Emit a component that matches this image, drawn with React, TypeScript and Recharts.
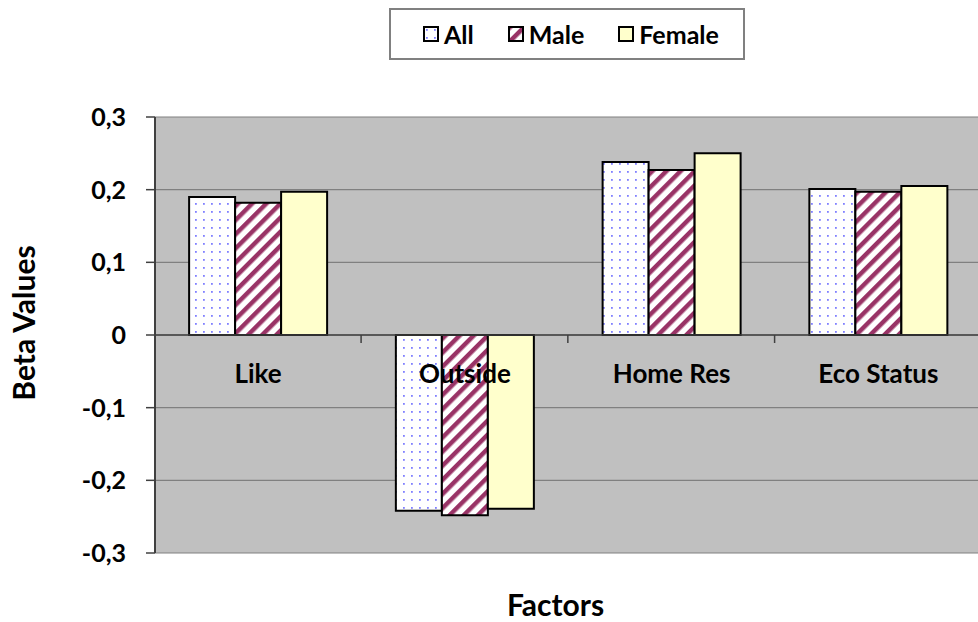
import { BarChart, Bar, XAxis, YAxis, CartesianGrid, ReferenceLine, Legend, LabelList } from "recharts";

const categories = ["Like", "Outside", "Home Res", "Eco Status"];
const allValues = [0.19, -0.242, 0.238, 0.201];
const maleValues = [0.182, -0.248, 0.227, 0.197];
const femaleValues = [0.197, -0.239, 0.25, 0.205];
const seriesNames = ["All", "Male", "Female"];
const yTicks = [-0.3, -0.2, -0.1, 0, 0.1, 0.2, 0.3];

const FONT = "Lato, 'Open Sans', sans-serif";
const GAP = 0.165; // share of a category band left empty on each side
const fills = ["url(#dotsAll)", "url(#stripesMale)", "#FFFFCC"];

const data = categories.map((name, i) => ({
  name,
  All: allValues[i],
  Male: maleValues[i],
  Female: femaleValues[i],
}));

const fmt = (v: number) => (v === 0 ? "0" : v.toFixed(1).replace(".", ","));

function Patterns() {
  return (
    <svg width={0} height={0} style={{ position: "absolute" }}>
      <defs>
        <pattern id="dotsAll" patternUnits="userSpaceOnUse" width={8} height={8}>
          <rect width={8} height={8} fill="#fff" />
          <rect x={3} y={3} width={1.8} height={1.8} fill="#8080FF" />
        </pattern>
        <pattern id="stripesMale" patternUnits="userSpaceOnUse" width={10} height={10} patternTransform="rotate(45)">
          <rect width={10} height={10} fill="#fff" />
          <rect width={4.5} height={10} fill="#993366" />
        </pattern>
      </defs>
    </svg>
  );
}

function LegendBox() {
  return (
    <div
      style={{
        display: "inline-flex",
        alignItems: "center",
        boxSizing: "border-box",
        height: 52,
        padding: "0 24px 0 32px",
        gap: 34,
        border: "2px solid #808080",
        background: "#fff",
        fontFamily: FONT,
        fontWeight: 700,
        fontSize: 25,
        color: "#000",
      }}
    >
      {seriesNames.map((n, i) => (
        <span key={n} style={{ display: "inline-flex", alignItems: "center", gap: 5 }}>
          <svg width={16} height={16}>
            <rect x={1} y={1} width={14} height={14} fill={fills[i]} stroke="#000" strokeWidth={2} />
          </svg>
          {n}
        </span>
      ))}
    </div>
  );
}

// category names sit just under the zero line, drawn from the last bar so they stay on top
function CategoryLabel(props: any) {
  const { x, y, width, height, value } = props;
  const idx = categories.indexOf(value);
  const neg = femaleValues[idx] < 0;
  const zeroY = neg ? Math.min(y, y + height) : Math.max(y, y + height);
  const cx = x + width / 2 - width;
  const bandHalf = (1.5 * width) / (1 - 2 * GAP);
  return (
    <g>
      <line x1={cx + bandHalf} x2={cx + bandHalf} y1={zeroY} y2={zeroY + 8} stroke="#404040" strokeWidth={1.5} />
      <text
        x={cx}
        y={zeroY + 48}
        textAnchor="middle"
        fontFamily={FONT}
        fontWeight={700}
        fontSize={26}
        fill="#000"
      >
        {value}
      </text>
    </g>
  );
}

const YTitle = (props: any) => {
  const vb = props.viewBox;
  const cx = vb.x + 23;
  const cy = vb.y + vb.height / 2 - 12;
  return (
    <text
      x={cx}
      y={cy}
      transform={`rotate(-90 ${cx} ${cy})`}
      textAnchor="middle"
      dominantBaseline="central"
      fontFamily={FONT}
      fontWeight={700}
      fontSize={30}
      fill="#000"
    >
      Beta Values
    </text>
  );
};

const XTitle = (props: any) => {
  const vb = props.viewBox;
  return (
    <text
      x={vb.x + vb.width / 2 - 13}
      y={vb.y + 63}
      textAnchor="middle"
      fontFamily={FONT}
      fontWeight={700}
      fontSize={30}
      fill="#000"
    >
      Factors
    </text>
  );
};

export default function App() {
  return (
    <div style={{ position: "absolute", left: 0, top: 0, width: 978, height: 622, overflow: "hidden", background: "#fff" }}>
      <Patterns />
      <BarChart
        width={990}
        height={622}
        data={data}
        margin={{ top: 117, right: 8, bottom: 9, left: 0 }}
        barCategoryGap={`${GAP * 100}%`}
        barGap={0}
      >
        <CartesianGrid vertical={false} stroke="#808080" fill="#C0C0C0" strokeWidth={1.2} />
        <XAxis
          dataKey="name"
          tick={false}
          axisLine={false}
          tickLine={false}
          height={60}
          label={XTitle}
        />
        <YAxis
          domain={[-0.3, 0.3]}
          ticks={yTicks}
          tickFormatter={fmt}
          width={155}
          interval={0}
          tickSize={9}
          tickMargin={20}
          axisLine={{ stroke: "#404040", strokeWidth: 2 }}
          tickLine={{ stroke: "#404040", strokeWidth: 1.5 }}
          tick={{ fontFamily: FONT, fontWeight: 700, fontSize: 25, fill: "#000" }}
          label={YTitle}
        />
        <ReferenceLine y={0} stroke="#404040" strokeWidth={1.5} />
        <Legend
          layout="horizontal"
          verticalAlign="middle"
          align="center"
          wrapperStyle={{ top: 8, left: 389, width: "auto", height: "auto" }}
          content={() => <LegendBox />}
        />
        {seriesNames.map((key, i) => (
          <Bar
            key={key}
            dataKey={key}
            fill={fills[i]}
            stroke="#000"
            strokeWidth={2}
            isAnimationActive={false}
          >
            {key === "Female" && <LabelList dataKey="name" content={CategoryLabel} />}
          </Bar>
        ))}
      </BarChart>
    </div>
  );
}
